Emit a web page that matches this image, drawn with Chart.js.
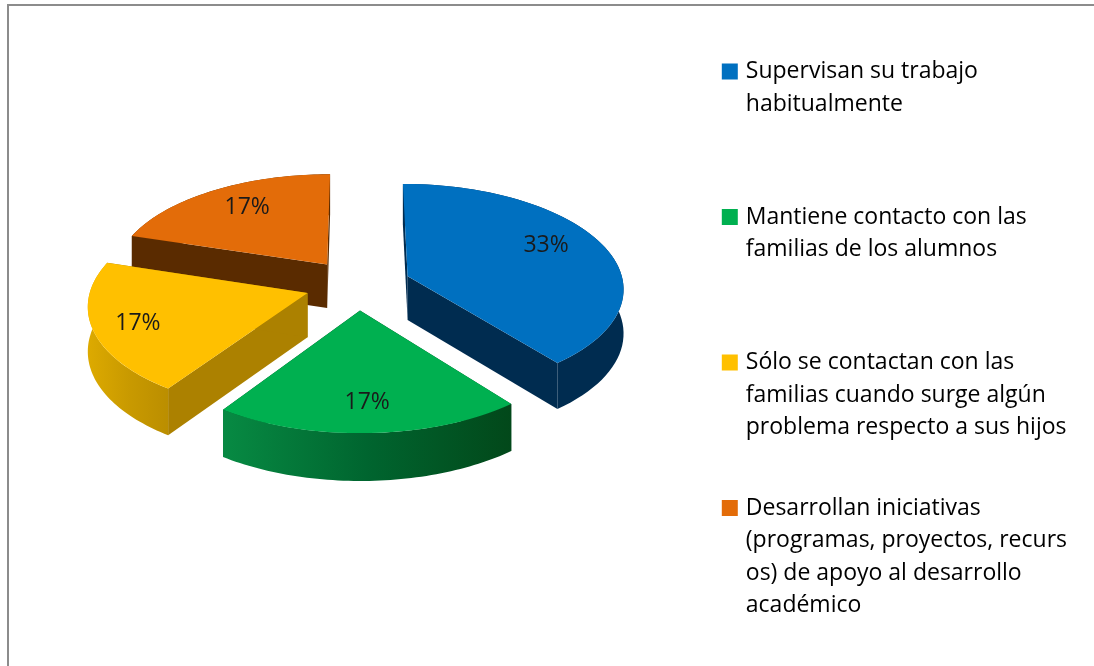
<!DOCTYPE html>
<html><head><meta charset="utf-8">
<style>
html,body{margin:0;padding:0;background:#fff;overflow:hidden}
#wrap{position:relative;width:1094px;height:666px}
#frame{position:absolute;left:7px;top:4px;right:-10px;bottom:-10px;border:2.5px solid #8c8c8c}
canvas{position:absolute;left:0;top:0}
</style>
<script src="https://cdn.jsdelivr.net/npm/chart.js@4"></script>
</head><body>
<div id="wrap"><div id="frame"></div><canvas id="c" width="1094" height="666"></canvas></div>
<script>
const categories = [
  ["Supervisan su trabajo","habitualmente"],
  ["Mantiene contacto con las","familias de los alumnos"],
  ["Sólo se contactan con las","familias cuando surge algún","problema respecto a sus hijos"],
  ["Desarrollan iniciativas","(programas, proyectos, recurs","os) de apoyo al desarrollo","académico"]
];
const values = [33, 17, 17, 17];
const topColors = ["#0070C0", "#00B050", "#FFC000", "#E36C09"];
const rimStops = [
  ["#002C50", "#002C50"],
  ["#078A43", "#00652F", "#02481A"],
  ["#DDAA00", "#C99A00", "#BB8E00"],
  ["#5A2B00", "#5A2B00"]
];
const radialWall = ["#002C50", "#014A20", "#AC8100", "#5A2B00"];
const labelRadius = [0.745, 0.77, 0.80, 0.73];
const labelAlong = [0.46, 0.50, 0.48, 0.53];

// perspective view of the pie plane
const view = { cx: 358, cy: 284.5, k: 0.48, p: 0.000488, depth: 44, explode: 53 };

function project(arc, x, y) {
  const X = x - arc.x, Y = y - arc.y, s = 1 / (1 - view.p * Y);
  return [view.cx + X * s, view.cy + Y * view.k * s, view.depth * Math.pow(s, 0.6)];
}
function geom(el) {
  const a = el.getProps(['x','y','startAngle','endAngle','outerRadius'], true);
  const mid = (a.startAngle + a.endAngle) / 2;
  const dx = Math.cos(mid) * view.explode, dy = Math.sin(mid) * view.explode;
  const c = [a.x + dx, a.y + dy];
  const rim = t => [c[0] + Math.cos(t) * a.outerRadius, c[1] + Math.sin(t) * a.outerRadius];
  return { a, c, dx, dy, rim, mid, map: (x, y) => project(a, x, y) };
}
function rimPoints(g, n) {
  const pts = [];
  for (let i = 0; i <= n; i++) {
    const r = g.rim(g.a.startAngle + (g.a.endAngle - g.a.startAngle) * i / n);
    pts.push(g.map(r[0], r[1]));
  }
  return pts;
}
function wallPath(ctx, pts) {
  ctx.beginPath();
  pts.forEach((q, i) => i ? ctx.lineTo(q[0], q[1]) : ctx.moveTo(q[0], q[1]));
  for (let i = pts.length - 1; i >= 0; i--) ctx.lineTo(pts[i][0], pts[i][1] + pts[i][2]);
  ctx.closePath();
}
const pie3d = {
  id: 'pie3d',
  beforeDatasetsDraw(chart) {
    const ctx = chart.ctx, els = chart.getDatasetMeta(0).data;
    // walls, back slices first
    [3, 0, 2, 1].forEach(i => {
      const g = geom(els[i]);
      const C = g.map(g.c[0], g.c[1]);
      [g.a.startAngle, g.a.endAngle].forEach(t => {
        const r = g.rim(t);
        wallPath(ctx, [C, g.map(r[0], r[1])]);
        ctx.fillStyle = radialWall[i];
        ctx.fill();
      });
      const pts = rimPoints(g, 60);
      const xs = pts.map(q => q[0]);
      const grad = ctx.createLinearGradient(Math.min(...xs), 0, Math.max(...xs), 0);
      rimStops[i].forEach((col, n, all) => grad.addColorStop(n / (all.length - 1), col));
      wallPath(ctx, pts);
      ctx.fillStyle = grad;
      ctx.fill();
    });
  },
  beforeDatasetDraw(chart) {
    // top faces: the library's own arcs, drawn row by row through the perspective
    const ctx = chart.ctx, els = chart.getDatasetMeta(0).data;
    els.forEach(el => {
      const g = geom(el), a = g.a;
      const pts = rimPoints(g, 60).concat([g.map(g.c[0], g.c[1])]);
      const ys = pts.map(q => q[1]);
      const r0 = Math.floor(Math.min(...ys)) - 2, r1 = Math.ceil(Math.max(...ys)) + 2;
      for (let row = r0; row <= r1; row++) {
        const v = (row + 0.5 - view.cy) / view.k;
        const Y = v / (1 + view.p * v);
        const s = 1 / (1 - view.p * Y);
        const d = view.k * s * s;
        ctx.save();
        ctx.beginPath();
        ctx.rect(0, row, chart.width, 1);
        ctx.clip();
        ctx.transform(s, 0, 0, d, view.cx - a.x * s, row + 0.5 - (a.y + Y) * d);
        ctx.translate(g.dx, g.dy);
        el.draw(ctx, chart.chartArea);
        ctx.restore();
      }
    });
    return false;
  },
  afterDatasetsDraw(chart) {
    const ctx = chart.ctx, els = chart.getDatasetMeta(0).data;
    ctx.save();
    ctx.font = '23px "Open Sans"';
    ctx.fillStyle = '#1a1a1a';
    ctx.textAlign = 'center';
    ctx.textBaseline = 'middle';
    els.forEach((el, i) => {
      const g = geom(el), r = g.a.outerRadius * labelRadius[i];
      const t = g.a.startAngle + (g.a.endAngle - g.a.startAngle) * labelAlong[i];
      const q = g.map(g.c[0] + Math.cos(t) * r, g.c[1] + Math.sin(t) * r);
      ctx.fillText(values[i] + '%', q[0], q[1]);
    });
    ctx.restore();
  }
};
new Chart(document.getElementById('c'), {
  type: 'pie',
  data: {
    labels: categories,
    datasets: [{ data: values, backgroundColor: topColors, borderWidth: 0 }]
  },
  options: {
    responsive: false,
    animation: false,
    radius: 216,
    layout: { padding: { top: 45, right: 17 } },
    plugins: {
      tooltip: { enabled: false },
      legend: {
        position: 'right',
        align: 'start',
        labels: {
          boxWidth: 9, boxHeight: 9,
          padding: 15.1,
          color: '#222',
          font: { family: '"Open Sans"', size: 23, lineHeight: 1.417 },
          generateLabels(chart) {
            return categories.map((lines, i) => ({
              text: [...lines, '', '', '', ''].slice(0, 4),
              fillStyle: topColors[i], strokeStyle: topColors[i], lineWidth: 7,
              hidden: false, index: i
            }));
          }
        }
      }
    }
  },
  plugins: [pie3d]
});
</script>
</body></html>
